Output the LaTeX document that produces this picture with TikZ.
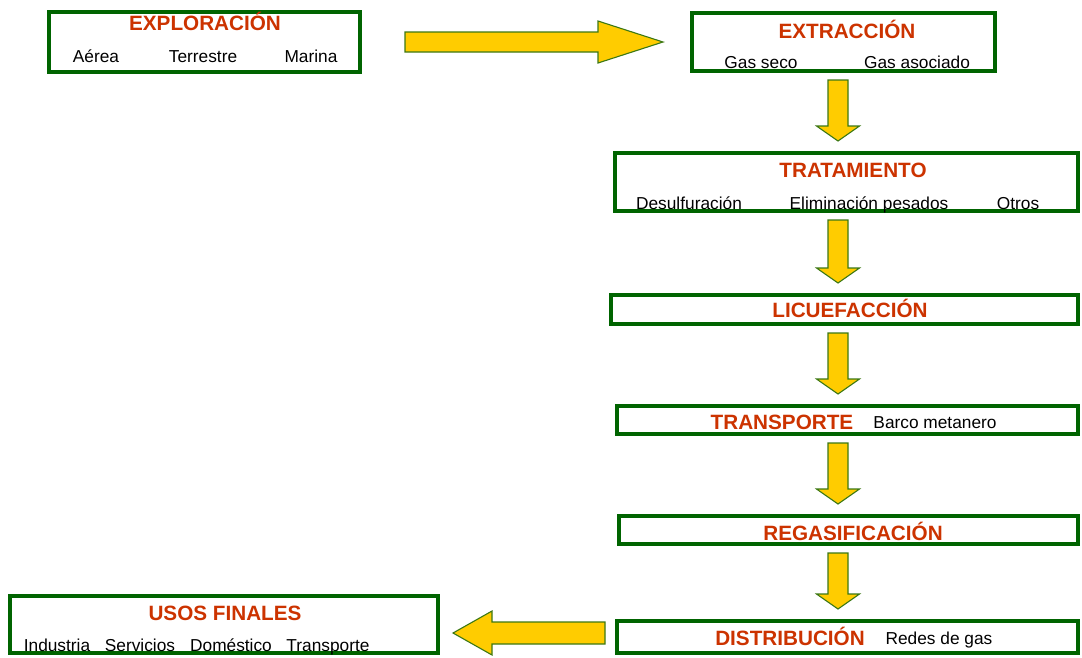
\documentclass[tikz,border=0pt]{standalone}
\usepackage{fontspec}
\setmainfont{Liberation Sans}
\usetikzlibrary{calc}

\definecolor{verdecaja}{RGB}{0,100,0}
\definecolor{rojotit}{RGB}{204,51,0}
\definecolor{amarillo}{RGB}{255,204,0}
\definecolor{verdeflecha}{RGB}{60,120,20}

\tikzset{
  caja/.style = {draw = verdecaja, line width = 4pt, fill = white, inner sep = 0pt},
  titulo/.style = {text = rojotit, font = \fontsize{20.7}{24}\selectfont\bfseries, text height = 14.9pt, text depth = 0pt, inner sep = 0pt},
  sub/.style = {text = black, font = \fontsize{17.3}{20}\selectfont, text height = 12.4pt, text depth = 0pt, inner sep = 0pt},
  flecha/.style = {draw = verdeflecha, fill = amarillo, line width = 1.1pt, line join = miter}
}

% flecha gruesa hacia abajo, de una caja a la siguiente
\newcommand{\flechabajo}[2]{%
  \draw[flecha] ($(eje |- #1.south) + (-10, 7)$) -- ($(eje |- #2.north) + (-10, -25)$)
    -- ($(eje |- #2.north) + (-21.5, -25)$) -- ($(eje |- #2.north) + (0, -10)$)
    -- ($(eje |- #2.north) + (21.5, -25)$) -- ($(eje |- #2.north) + (10, -25)$)
    -- ($(eje |- #1.south) + (10, 7)$) -- cycle;
}

\begin{document}
\begin{tikzpicture}[x = 1pt, y = -1pt]
  \useasboundingbox (0, 0) rectangle (1082, 657);
  \coordinate (eje) at (838, 0);

  % cajas
  \node[caja, minimum width = 311, minimum height = 60] (explo) at (204.5, 42) {};
  \node[caja, minimum width = 303, minimum height = 58] (extrac) at (843.5, 42) {};
  \node[caja, minimum width = 463, minimum height = 58] (trata) at (846.5, 182) {};
  \node[caja, minimum width = 467, minimum height = 29] (licue) at (844.5, 309.5) {};
  \node[caja, minimum width = 461, minimum height = 28] (transp) at (847.5, 420) {};
  \node[caja, minimum width = 459, minimum height = 28] (regas) at (848.5, 530) {};
  \node[caja, minimum width = 461, minimum height = 32] (distrib) at (847.5, 637) {};
  \node[caja, minimum width = 428, minimum height = 57] (usos) at (224, 624.5) {};

  % textos
  \node[titulo] (explo-t) at (205, 23) {EXPLORACIÓN};
  \node[sub] (explo-a) at (96, 56) {Aérea};
  \node[sub] (explo-b) at (203, 56) {Terrestre};
  \node[sub] (explo-c) at (311, 56) {Marina};

  \node[titulo] (extrac-t) at (847, 31) {EXTRACCIÓN};
  \node[sub] (extrac-a) at (761, 62) {Gas seco};
  \node[sub] (extrac-b) at (917, 62) {Gas asociado};

  \node[titulo] (trata-t) at (853, 170) {TRATAMIENTO};
  \node[sub] (trata-a) at (689, 203) {Desulfuración};
  \node[sub] (trata-b) at (869, 203) {Eliminación pesados};
  \node[sub] (trata-c) at (1018, 203) {Otros};

  \node[titulo] (licue-t) at (850, 310) {LICUEFACCIÓN};

  \node[titulo] (transp-t) at (782, 422) {TRANSPORTE};
  \node[sub] (transp-a) at (935, 422) {Barco metanero};

  \node[titulo] (regas-t) at (853, 533) {REGASIFICACIÓN};

  \node[titulo] (distrib-t) at (790, 638) {DISTRIBUCIÓN};
  \node[sub] (distrib-a) at (939, 638) {Redes de gas};

  \node[titulo] (usos-t) at (225, 613) {USOS FINALES};
  \node[sub] (usos-a) at (57, 645) {Industria};
  \node[sub] (usos-b) at (140, 645) {Servicios};
  \node[sub] (usos-c) at (231, 645) {Doméstico};
  \node[sub] (usos-d) at (328, 645) {Transporte};

  % flechas
  \draw[flecha] ($(explo.east) + (43, -10)$) -- ($(extrac.west |- explo.east) + (-92, -10)$)
    -- ($(extrac.west |- explo.east) + (-92, -21)$) -- ($(extrac.west |- explo.east) + (-27, 0)$)
    -- ($(extrac.west |- explo.east) + (-92, 21)$) -- ($(extrac.west |- explo.east) + (-92, 10)$)
    -- ($(explo.east) + (43, 10)$) -- cycle;
  \flechabajo{extrac}{trata}
  \flechabajo{trata}{licue}
  \flechabajo{licue}{transp}
  \flechabajo{transp}{regas}
  \flechabajo{regas}{distrib}
  \draw[flecha] ($(distrib.west) + (-10, -15)$) -- ($(usos.east |- distrib.west) + (52, -15)$)
    -- ($(usos.east |- distrib.west) + (52, -26)$) -- ($(usos.east |- distrib.west) + (13, -4)$)
    -- ($(usos.east |- distrib.west) + (52, 18)$) -- ($(usos.east |- distrib.west) + (52, 7)$)
    -- ($(distrib.west) + (-10, 7)$) -- cycle;
\end{tikzpicture}
\end{document}
